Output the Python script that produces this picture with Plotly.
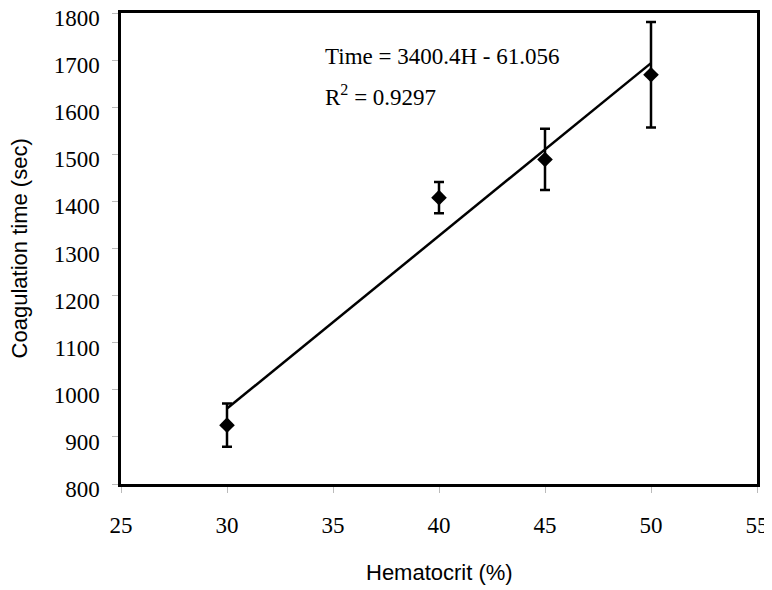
import numpy as np
import plotly.graph_objects as go

hematocrit = [30, 40, 45, 50]
coag_time = [925, 1408, 1489, 1669]
coag_err = [46, 33, 65, 112]

x_ticks = [25, 30, 35, 40, 45, 50, 55]
y_ticks = [800, 900, 1000, 1100, 1200, 1300, 1400, 1500, 1600, 1700, 1800]

slope, intercept = np.polyfit(hematocrit, coag_time, 1)
trend_x = [min(hematocrit), max(hematocrit)]
trend_y = [slope * v + intercept for v in trend_x]

fig = go.Figure()
fig.add_trace(go.Scatter(
    x=trend_x, y=trend_y, mode="lines",
    line=dict(color="black", width=2.5), showlegend=False, hoverinfo="skip"))
fig.add_trace(go.Scatter(
    x=hematocrit, y=coag_time, mode="markers",
    marker=dict(symbol="diamond", size=12, color="black"),
    error_y=dict(type="data", array=coag_err, visible=True,
                 color="black", thickness=2.5, width=5),
    showlegend=False))

SERIF = "Liberation Serif"
SANS = "Liberation Sans"

# page body adds an 8px offset; figure is sized/margined to compensate
fig.update_layout(
    width=764, height=582,
    margin=dict(l=113, r=15, t=5, b=106, autoexpand=False),
    paper_bgcolor="white", plot_bgcolor="white",
    font=dict(family=SERIF, size=22, color="black"),
    xaxis=dict(
        range=[25, 55], tickmode="array", tickvals=x_ticks,
        ticktext=[str(v) for v in x_ticks],
        showgrid=False, zeroline=False, automargin=False,
        showline=True, linecolor="black", linewidth=2.5, mirror=True,
        ticks="outside", ticklen=6, tickcolor="#bbbbbb", tickwidth=1,
        tickfont=dict(family=SERIF, size=23, color="black"),
        ticklabelstandoff=13, ticklabeloverflow="allow"),
    yaxis=dict(
        range=[800, 1800], tickmode="array", tickvals=y_ticks,
        ticktext=[str(v) for v in y_ticks],
        showgrid=False, zeroline=False, automargin=False,
        showline=True, linecolor="black", linewidth=2.5, mirror=True,
        ticks="outside", ticklen=6, tickcolor="#bbbbbb", tickwidth=1,
        tickfont=dict(family=SERIF, size=23, color="black"),
        ticklabelstandoff=8, ticklabelshift=5, ticklabeloverflow="allow"),
)

fig.add_annotation(x=0.5, y=-0.187, xref="paper", yref="paper",
                   text="Hematocrit (%)", showarrow=False,
                   xanchor="center", yanchor="middle",
                   font=dict(family=SANS, size=22, color="black"))
fig.add_annotation(x=-0.159, y=0.5, xref="paper", yref="paper",
                   text="Coagulation time (sec)", showarrow=False, textangle=-90,
                   xanchor="center", yanchor="middle",
                   font=dict(family=SANS, size=22, color="black"))

fig.add_annotation(x=0.317, y=0.907, xref="paper", yref="paper",
                   text="Time = 3400.4H - 61.056", showarrow=False,
                   xanchor="left", yanchor="middle",
                   font=dict(family=SERIF, size=23, color="black"))
fig.add_annotation(x=0.317, y=0.825, xref="paper", yref="paper",
                   text="R<sup>2</sup> = 0.9297", showarrow=False,
                   xanchor="left", yanchor="middle",
                   font=dict(family=SERIF, size=23, color="black"))

fig.write_html("out.html")
